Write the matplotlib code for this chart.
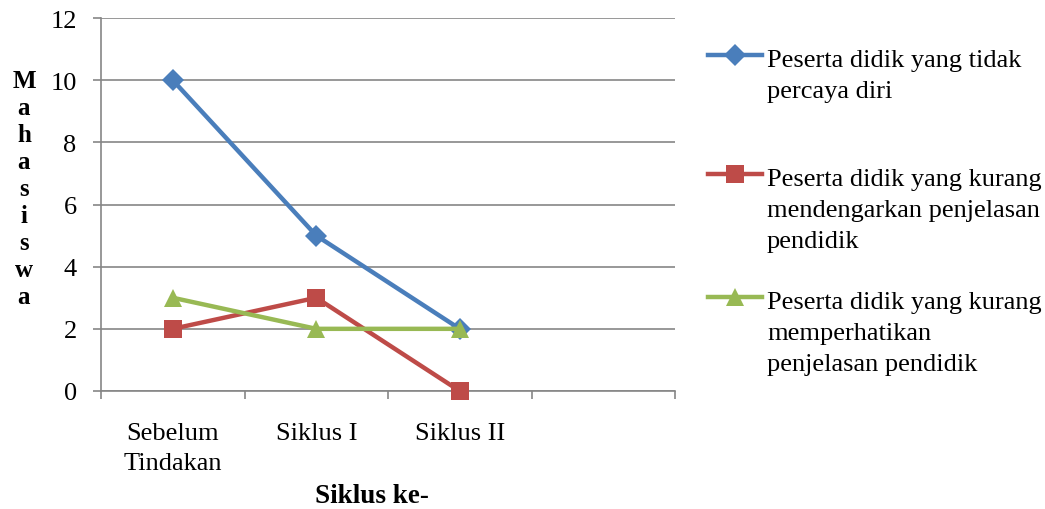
import matplotlib.pyplot as plt
from matplotlib.lines import Line2D

plt.rcParams['font.family'] = ['Liberation Serif', 'DejaVu Serif']

# ── data ─────────────────────────────────────────────────────────────────────
categories = ['Sebelum\nTindakan', 'Siklus I', 'Siklus II', '']
tidak_percaya_diri = [10, 5, 2]
kurang_mendengarkan = [2, 3, 0]
kurang_memperhatikan = [3, 2, 2]

series_labels = [
    'Peserta didik yang tidak\npercaya diri',
    'Peserta didik yang kurang\nmendengarkan penjelasan\npendidik',
    'Peserta didik yang kurang\nmemperhatikan\npenjelasan pendidik',
]
series_values = [tidak_percaya_diri, kurang_mendengarkan, kurang_memperhatikan]
colors = ['#4A7EBB', '#BE4B48', '#98B954']
markers = ['D', 's', '^']
msizes = [11, 13, 13]

W, H = 1045, 510
GRID = '#868686'
LINE_STEP = 31  # px between legend text lines

# ── plot ─────────────────────────────────────────────────────────────────────
fig = plt.figure(figsize=(W / 100, H / 100), dpi=100)
ax = fig.add_axes([101 / W, 118 / H, 574 / W, 373 / H])

x = list(range(len(tidak_percaya_diri)))
for vals, c, m, ms in zip(series_values, colors, markers, msizes):
    ax.plot(x, vals, color=c, linewidth=3.2, marker=m, markersize=ms,
            markeredgewidth=0, zorder=3, clip_on=False)

ax.set_xlim(-0.5, len(categories) - 0.5)
ax.set_ylim(0, 12)
ax.set_yticks(range(0, 13, 2))
ax.yaxis.grid(True, color=GRID, linewidth=1.2)
ax.set_axisbelow(True)

# category boundaries carry the tick marks, labels sit between them
ax.set_xticks([i - 0.5 for i in range(len(categories) + 1)])
ax.set_xticklabels([])
ax.set_xticks(range(len(categories)), minor=True)
ax.set_xticklabels(categories, minor=True, fontsize=19, linespacing=1.44)
ax.tick_params(axis='x', which='minor', length=0, pad=22.5)
ax.tick_params(axis='x', which='major', length=6, width=1.2, color=GRID)
ax.tick_params(axis='y', length=6, width=1.2, color=GRID, labelsize=19, pad=11.5)

for side in ['top', 'right']:
    ax.spines[side].set_visible(False)
for side in ['left', 'bottom']:
    ax.spines[side].set_color(GRID)
    ax.spines[side].set_linewidth(1.2)

ax.set_xlabel('Siklus ke-', fontsize=19.5, fontweight='bold', va='baseline')
ax.xaxis.set_label_coords((371.5 - 101) / 574, (392 - 503) / 373)

# vertical letters; baseline of the last letter at y=300 px
ylab = 'Mahasiswa'
ax.set_ylabel('\n'.join(ylab), rotation=0, fontsize=18,
              fontweight='bold', linespacing=1.22, va='baseline', ha='center')
ax.yaxis.set_label_coords((24 - 101) / 574, (392 - 300) / 373)

# legend: handle beside the first line of each label
handle_y = [56, 175, 298]
for c, m, ms, lab, hy in zip(colors, markers, msizes, series_labels, handle_y):
    fy = 1 - hy / H
    fig.add_artist(Line2D([708 / W, 762 / W], [fy, fy], color=c,
                          linewidth=3.2, transform=fig.transFigure))
    fig.add_artist(Line2D([735 / W], [fy], color=c, marker=m,
                          markersize=ms, markeredgewidth=0,
                          transform=fig.transFigure))
    last_base = hy + 11 + (lab.count('\n')) * LINE_STEP
    fig.text(767 / W, 1 - last_base / H, lab, fontsize=19, ha='left',
             va='baseline', linespacing=1.53)

fig.savefig('out.png', dpi=100)
